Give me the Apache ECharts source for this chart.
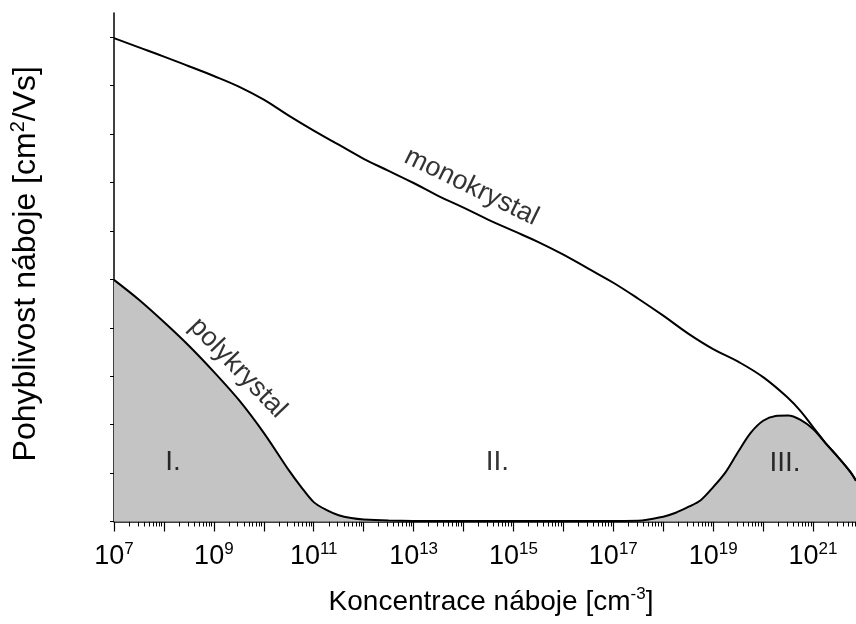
<!DOCTYPE html>
<html><head><meta charset="utf-8">
<script src="https://cdn.jsdelivr.net/npm/echarts@6/dist/echarts.min.js"></script>
<style>html,body{margin:0;padding:0;background:#fff}#c{width:856px;height:624px}</style>
</head><body><div id="c"></div>
<script>
// x values are log10 of the charge concentration [cm^-3]
const monoX = [7.0, 7.5, 8.0, 8.5, 9.0, 9.5, 10.0, 10.5, 11.0, 11.5, 12.0, 12.5, 13.0, 13.5, 14.0, 14.5, 15.0, 15.5, 16.0, 16.5, 17.0, 17.5, 18.0, 18.5, 19.0, 19.5, 20.0, 20.5, 20.75, 21.0, 21.25, 21.5, 21.75, 21.86];
const monoY = [9.98, 9.79, 9.60, 9.40, 9.20, 8.98, 8.71, 8.38, 8.07, 7.78, 7.49, 7.24, 6.99, 6.72, 6.48, 6.23, 6.00, 5.77, 5.51, 5.22, 4.93, 4.60, 4.25, 3.88, 3.56, 3.30, 2.98, 2.55, 2.28, 1.95, 1.62, 1.33, 1.02, 0.84];
const polyX = [7.0, 7.5, 8.0, 8.5, 9.0, 9.5, 10.0, 10.5, 10.75, 11.0, 11.25, 11.5, 11.75, 12.0, 12.5, 13.5, 15.0, 16.5, 17.5, 18.0, 18.25, 18.5, 18.75, 19.0, 19.25, 19.5, 19.75, 20.0, 20.25, 20.5, 20.75, 21.0, 21.25, 21.5, 21.75, 21.86];
const polyY = [4.99, 4.58, 4.12, 3.63, 3.09, 2.51, 1.83, 1.06, 0.71, 0.40, 0.24, 0.13, 0.07, 0.04, 0.02, 0.01, 0.01, 0.01, 0.015, 0.10, 0.18, 0.30, 0.44, 0.71, 1.02, 1.44, 1.83, 2.08, 2.18, 2.19, 2.10, 1.91, 1.62, 1.33, 1.02, 0.84];
const xLabelExps = [7, 9, 11, 13, 15, 17, 19, 21];
const majorTickExps = [7, 8, 9, 10, 11, 12, 13, 14, 15, 16, 17, 18, 19, 20, 21];
const yTickValues = [0, 1, 2, 3, 4, 5, 6, 7, 8, 9, 10];
const annotationTexts = ['monokrystal', 'polykrystal', 'I.', 'II.', 'III.'];
const annotationAt = [[14.16, 6.91], [9.48, 3.17], [8.18, 1.23], [14.68, 1.23], [20.44, 1.21]];
const annotationAngle = [-26, -46, 0, 0, 0];
const annotationSize = [27, 27, 28, 28, 28];

const X_MIN = 7, X_MAX = 21.86, Y_MIN = 0, Y_MAX = 10.5;
const FONT = '"Liberation Sans", Arial, sans-serif';

const minorTicks = [];
for (const n of majorTickExps) {
  for (let k = 2; k <= 9; k++) {
    const v = n + Math.log10(k);
    if (v < X_MAX) minorTicks.push(v);
  }
}

const zip = (xs, ys) => xs.map((x, i) => [x, ys[i]]);

const chart = echarts.init(document.getElementById('c'), null, {renderer: 'canvas'});
chart.setOption({
  animation: false,
  backgroundColor: '#ffffff',
  grid: {left: 113, right: 0, top: 13, bottom: 102.5, containLabel: false},
  xAxis: [{
    type: 'value', min: X_MIN, max: X_MAX, interval: 1,
    axisLine: {show: true, onZero: false, lineStyle: {color: '#000', width: 1.5}},
    axisTick: {show: true, length: 10, customValues: majorTickExps, lineStyle: {color: '#000', width: 1.2}},
    axisLabel: {
      show: true, customValues: xLabelExps, margin: 19,
      formatter: v => '{b|10}{s|' + Math.round(v) + '}',
      rich: {
        b: {fontSize: 27, fontFamily: FONT, color: '#000', lineHeight: 32},
        s: {fontSize: 17, fontFamily: FONT, color: '#000', verticalAlign: 'top', lineHeight: 17}
      }
    },
    splitLine: {show: false},
    name: '{a|Koncentrace náboje [cm}{s|-3}{a|]}',
    nameLocation: 'middle', nameGap: 64,
    nameTextStyle: {
      padding: [0, 0, 0, 12],
      rich: {
        a: {fontSize: 28, fontFamily: FONT, color: '#000', lineHeight: 34},
        s: {fontSize: 17, fontFamily: FONT, color: '#000', verticalAlign: 'top', lineHeight: 17}
      }
    }
  }, {
    type: 'value', min: X_MIN, max: X_MAX, position: 'bottom',
    axisLine: {show: false},
    axisTick: {show: true, length: 5, customValues: minorTicks, lineStyle: {color: '#000', width: 1}},
    axisLabel: {show: false},
    splitLine: {show: false}
  }],
  yAxis: {
    type: 'value', min: Y_MIN, max: Y_MAX, interval: 1,
    axisLine: {show: true, onZero: false, lineStyle: {color: '#000', width: 1.5}},
    axisTick: {show: true, length: 4, customValues: yTickValues, lineStyle: {color: '#000', width: 1}},
    axisLabel: {show: false},
    splitLine: {show: false},
    name: '{a|Pohyblivost náboje [cm}{s|2}{a|/Vs]}',
    nameLocation: 'middle', nameGap: 70, nameRotate: 90,
    nameTextStyle: {
      padding: [0, 0, 0, 7],
      rich: {
        a: {fontSize: 32, fontFamily: FONT, color: '#000', lineHeight: 36},
        s: {fontSize: 20, fontFamily: FONT, color: '#000', verticalAlign: 'top', lineHeight: 20}
      }
    }
  },
  series: [{
    type: 'line', name: 'polykrystal', data: zip(polyX, polyY),
    smooth: 0.3, showSymbol: false, symbol: 'none',
    lineStyle: {color: '#000', width: 2},
    areaStyle: {color: '#c4c4c4', opacity: 1, origin: 'start'},
    z: 2
  }, {
    type: 'line', name: 'monokrystal', data: zip(monoX, monoY),
    smooth: 0.4, showSymbol: false, symbol: 'none',
    lineStyle: {color: '#000', width: 2},
    z: 3
  }, {
    type: 'scatter', name: 'labels', symbolSize: 0, silent: true,
    data: annotationAt.map((p, i) => ({
      value: p,
      label: {show: true, position: 'inside', formatter: annotationTexts[i], rotate: annotationAngle[i],
        fontSize: annotationSize[i], fontFamily: FONT, color: '#000'}
    })),
    z: 5
  }]
});
</script>
</body></html>
